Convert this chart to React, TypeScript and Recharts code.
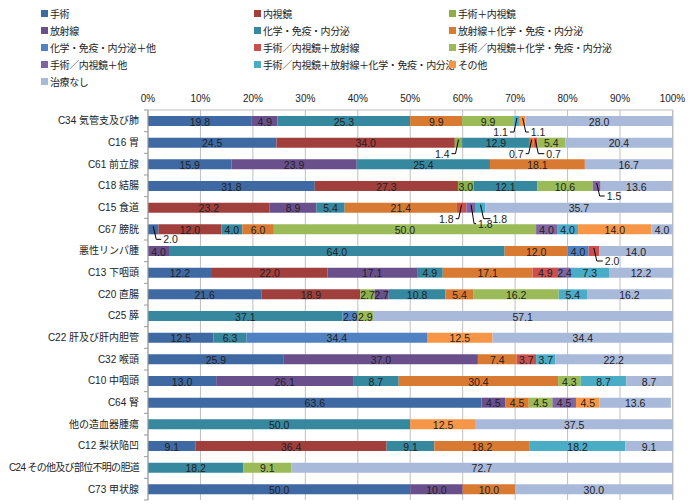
import React from 'react';
import { BarChart, Bar, XAxis, YAxis, CartesianGrid, LabelList } from 'recharts';

const categories = [
  'C34 気管支及び肺', 'C16 胃', 'C61 前立腺', 'C18 結腸', 'C15 食道', 'C67 膀胱',
  '悪性リンパ腫', 'C13 下咽頭', 'C20 直腸', 'C25 膵', 'C22 肝及び肝内胆管', 'C32 喉頭',
  'C10 中咽頭', 'C64 腎', '他の造血器腫瘍', 'C12 梨状陥凹', 'C24 その他及び部位不明の胆道', 'C73 甲状腺',
];

const surgery = [19.8, 24.5, 15.9, 31.8, 0, 2.0, 0, 12.2, 21.6, 0, 12.5, 25.9, 13.0, 63.6, 0, 9.1, 0, 50.0];
const endoscopy = [0, 34.0, 0, 27.3, 23.2, 12.0, 0, 22.0, 18.9, 0, 0, 0, 0, 0, 0, 36.4, 0, 0];
const surgeryEndo = [0, 1.4, 0, 3.0, 0, 0, 0, 0, 2.7, 0, 0, 0, 0, 0, 0, 0, 0, 0];
const radiation = [4.9, 0, 23.9, 0, 8.9, 0, 4.0, 17.1, 2.7, 0, 0, 37.0, 26.1, 4.5, 0, 0, 0, 10.0];
const chemo = [25.3, 12.9, 25.4, 12.1, 5.4, 4.0, 64.0, 4.9, 10.8, 37.1, 6.3, 0, 8.7, 0, 50.0, 9.1, 18.2, 0];
const radChemo = [9.9, 0.7, 18.1, 0, 21.4, 6.0, 12.0, 17.1, 5.4, 0, 0, 7.4, 30.4, 4.5, 0, 18.2, 0, 10.0];
const chemoOther = [0, 0, 0, 0, 0, 0, 4.0, 0, 0, 2.9, 34.4, 0, 0, 0, 0, 0, 0, 0];
const seRad = [0, 0.7, 0, 0, 1.8, 0, 2.0, 4.9, 0, 0, 0, 3.7, 0, 0, 0, 0, 0, 0];
const seChemo = [9.9, 5.4, 0, 10.6, 0, 50.0, 0, 0, 16.2, 2.9, 0, 0, 4.3, 4.5, 0, 0, 9.1, 0];
const seOther = [0, 0, 0, 1.5, 1.8, 4.0, 0, 2.4, 0, 0, 0, 0, 0, 4.5, 0, 0, 0, 0];
const seRadChemo = [1.1, 0, 0, 0, 1.8, 4.0, 0, 7.3, 5.4, 0, 0, 3.7, 8.7, 0, 0, 18.2, 0, 0];
const other = [1.1, 0, 0, 0, 0, 14.0, 0, 0, 0, 0, 12.5, 0, 0, 4.5, 12.5, 0, 0, 0];
const noTreatment = [28.0, 20.4, 16.7, 13.6, 35.7, 4.0, 14.0, 12.2, 16.2, 57.1, 34.4, 22.2, 8.7, 13.6, 37.5, 9.1, 72.7, 30.0];

const seriesNames = [
  '手術', '内視鏡', '手術＋内視鏡', '放射線', '化学・免疫・内分泌', '放射線＋化学・免疫・内分泌',
  '化学・免疫・内分泌＋他', '手術／内視鏡＋放射線', '手術／内視鏡＋化学・免疫・内分泌', '手術／内視鏡＋他',
  '手術／内視鏡＋放射線＋化学・免疫・内分泌', 'その他', '治療なし',
];
const seriesValues = [
  surgery, endoscopy, surgeryEndo, radiation, chemo, radChemo, chemoOther,
  seRad, seChemo, seOther, seRadChemo, other, noTreatment,
];
const seriesColors = [
  '#3E69A2', '#A13F3C', '#8CAF4B', '#6A4F8D', '#35889E', '#D97A33', '#4F81C3',
  '#C9504D', '#9BBB59', '#8064A2', '#4BACC6', '#F79646', '#A9B9DA',
];

const tickValues = [0, 10, 20, 30, 40, 50, 60, 70, 80, 90, 100];

// callout label placement (style only): key = row-seriesIndex
const callouts: Record<string, { dx: number; dy: number }> = {
  '0-10': { dx: -9, dy: 11 },
  '0-11': { dx: 8, dy: 11 },
  '1-2': { dx: -9, dy: 11 },
  '1-5': { dx: -8, dy: 11 },
  '1-7': { dx: 11, dy: 11 },
  '3-9': { dx: 10, dy: 10 },
  '4-7': { dx: -8, dy: 11 },
  '4-9': { dx: 7, dy: 16 },
  '4-10': { dx: 12, dy: 11 },
  '5-0': { dx: 10, dy: 10 },
  '6-7': { dx: 11, dy: 10 },
};

const data = categories.map((name, i) => {
  const row: Record<string, number | string> = { name };
  seriesValues.forEach((vals, s) => {
    row['s' + s] = vals[i];
  });
  return row;
});

const FONT = "'Liberation Sans', 'Noto Sans CJK JP', sans-serif";
const JP_FONT = "'Noto Sans CJK JP', sans-serif";
const PLOT_TOP = 110;
const BAND = 390 / 18;

const makeLabel = (s: number) => (props: any) => {
  const { x, y, width, height, value } = props;
  if (!value) return null;
  const txt = Number(value).toFixed(1);
  const cx = Number(x) + Number(width) / 2;
  const cy = Number(y) + Number(height) / 2;
  const row = Math.floor((cy - PLOT_TOP) / BAND);
  const c = callouts[`${row}-${s}`];
  if (c) {
    const sign = c.dx < 0 ? -1 : 1;
    const ly = cy + c.dy;
    const lx = cx + c.dx;
    const pts = `${cx},${cy - 3} ${cx + sign * 3},${ly} ${lx - sign * 2},${ly}`;
    return (
      <g>
        <polyline points={pts} fill="none" stroke="#000" strokeWidth={1} />
        <text x={lx} y={ly} textAnchor={sign < 0 ? 'end' : 'start'} dominantBaseline="central"
          fontSize={10.5} fontFamily={FONT} fill="#222">{txt}</text>
      </g>
    );
  }
  return (
    <text x={cx} y={cy + 0.5} textAnchor="middle" dominantBaseline="central"
      fontSize={10.5} fontFamily={FONT} fill="#222">{txt}</text>
  );
};

const CategoryTick = (props: any) => {
  const { x, y, payload, index } = props;
  const ax = Number(x) + 7;
  const label = String(payload.value);
  const long = label.length > 12;
  return (
    <g>
      <text x={Number(x) - 2} y={y} textAnchor="end" dominantBaseline="central"
        fontSize={10} letterSpacing={long ? -0.7 : 0} fontFamily={FONT} fill="#222">{label}</text>
      <line x1={ax - 4} x2={ax} y1={y - BAND / 2} y2={y - BAND / 2} stroke="#999" />
      {index === categories.length - 1 ? (
        <line x1={ax - 4} x2={ax} y1={y + BAND / 2} y2={y + BAND / 2} stroke="#999" />
      ) : null}
    </g>
  );
};

const legendCols = [41, 254, 449];
const legendRowY = 13;
const legendRowGap = 17;

const Legend = () => (
  <div style={{ position: 'absolute', left: 0, top: 0, width: 694, height: 95 }}>
    {seriesNames.map((n, i) => {
      const col = i % 3;
      const row = Math.floor(i / 3);
      return (
        <div key={n} style={{
          position: 'absolute', left: legendCols[col], top: legendRowY + row * legendRowGap - 8,
          height: 16, display: 'flex', alignItems: 'center', whiteSpace: 'nowrap',
          fontFamily: JP_FONT, fontSize: 10, letterSpacing: -0.4, color: '#222',
        }}>
          <span style={{ display: 'inline-block', width: 7, height: 7, background: seriesColors[i], marginRight: 2 }} />
          <span>{n}</span>
        </div>
      );
    })}
  </div>
);

export default function App() {
  return (
    <div style={{ position: 'absolute', left: 0, top: 0, width: 694, height: 504, background: '#fff' }}>
      <Legend />
      <div style={{ position: 'absolute', left: 0, top: 0 }}>
        <BarChart width={694} height={504} data={data} layout="vertical"
          margin={{ top: 90, right: 21, bottom: 4, left: 0 }} barSize={10}>
          <CartesianGrid horizontal={false} vertical={true} stroke="#BFBFBF" />
          <XAxis type="number" orientation="top" domain={[0, 100]} ticks={tickValues}
            tickFormatter={(v: number) => `${v}%`} height={20} tickLine={false} tickSize={0} tickMargin={8}
            axisLine={{ stroke: '#BFBFBF' }} interval={0}
            tick={{ fontSize: 10, fontFamily: FONT, fill: '#222' }} />
          <YAxis type="category" dataKey="name" width={148} tickLine={false} tickSize={0} tickMargin={7}
            axisLine={{ stroke: '#999' }} interval={0} tick={<CategoryTick />} />
          {seriesNames.map((n, s) => (
            <Bar key={n} dataKey={'s' + s} name={n} stackId="a" fill={seriesColors[s]} isAnimationActive={false}>
              <LabelList dataKey={'s' + s} content={makeLabel(s)} />
            </Bar>
          ))}
        </BarChart>
      </div>
    </div>
  );
}
